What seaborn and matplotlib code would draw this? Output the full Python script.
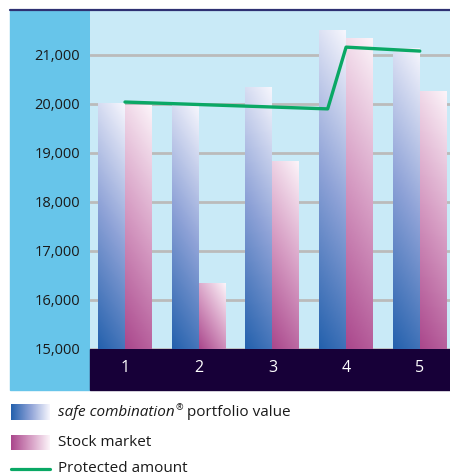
import numpy as np
import pandas as pd
import matplotlib
matplotlib.use("Agg")
import matplotlib.pyplot as plt
from matplotlib.colors import LinearSegmentedColormap
from matplotlib.patches import Rectangle
from matplotlib.lines import Line2D
from matplotlib.ticker import StrMethodFormatter
import seaborn as sns

# ---------------- data ----------------
periods = ["1", "2", "3", "4", "5"]
portfolio_values = [20000, 19970, 20345, 21490, 21140]
stock_values = [19975, 16345, 18835, 21345, 20245]
protected_period = [1, 3.75, 4, 5]
protected_values = [20040, 19900, 21160, 21080]
y_ticks = [15000, 16000, 17000, 18000, 19000, 20000, 21000]
series_names = ["safe combination® portfolio value", "Stock market"]

# ---------------- style ----------------
sns.set_theme(style="white")
plt.rcParams["font.family"] = ["Open Sans", "DejaVu Sans"]

W, H, DPI = 450, 476, 100
fig = plt.figure(figsize=(W / DPI, H / DPI), dpi=DPI)
fig.patch.set_facecolor("white")

def fx(px):
    return px / W

def fy(py):
    return 1 - py / H

# background panels
fig.add_artist(Rectangle((fx(10), fy(390)), fx(80), (390 - 10) / H,
                         transform=fig.transFigure, color="#67c5ea", zorder=0))
fig.add_artist(Rectangle((fx(90), fy(390)), fx(360), (390 - 349) / H,
                         transform=fig.transFigure, color="#170038", zorder=0))

ax = fig.add_axes([fx(90), fy(349), fx(360), (349 - 10) / H])
ax.set_facecolor("#c9eaf7")

df = pd.DataFrame({
    "period": periods * 2,
    "value": portfolio_values + stock_values,
    "series": [series_names[0]] * len(periods) + [series_names[1]] * len(periods),
})

sns.barplot(data=df, x="period", y="value", hue="series", hue_order=series_names,
            order=periods, width=0.73, ax=ax, legend=False, saturation=1,
            palette=["#8fa3d6", "#d59cc3"])

ylo, yhi = 15000, 21918
ax.set_ylim(ylo, yhi)
ax.set_xlim(-0.475, 4.41)

blue_cmap = LinearSegmentedColormap.from_list("b", ["#2461ad", "#8ea2d7", "#f6f6fd"])
pink_cmap = LinearSegmentedColormap.from_list("p", ["#aa478c", "#d69cc3", "#fcf4f9"])

def gradient_img(cmap, wpx, hpx, ang=np.deg2rad(60), n=200, m=40):
    u = np.linspace(0, 1, m)[None, :]
    v = np.linspace(0, 1, n)[:, None]
    a, b = wpx * np.sin(ang), hpx * np.cos(ang)
    t = (u * a + v * b) / (a + b)
    return cmap(t)

fig.canvas.draw()
n = len(periods)
for i, patch in enumerate(ax.patches[:2 * n]):
    cmap = blue_cmap if i < n else pink_cmap
    x0, w = patch.get_x(), patch.get_width()
    y0 = max(patch.get_y(), ylo)
    y1 = patch.get_y() + patch.get_height()
    p0 = ax.transData.transform((x0, y0))
    p1 = ax.transData.transform((x0 + w, y1))
    img = gradient_img(cmap, abs(p1[0] - p0[0]), abs(p1[1] - p0[1]))
    ax.imshow(img, extent=[x0, x0 + w, y0, y1], origin="lower",
              aspect="auto", zorder=2, interpolation="bilinear")
    patch.set_facecolor("none")
    patch.set_edgecolor("none")
ax.set_xlim(-0.475, 4.41)
ax.set_ylim(ylo, yhi)

# protected amount line
sns.lineplot(x=[p - 1 for p in protected_period], y=protected_values, ax=ax,
             color="#0aa865", linewidth=2.4, sort=False, zorder=4)

# grid
ax.set_yticks(y_ticks)
ax.yaxis.set_major_formatter(StrMethodFormatter("{x:,.0f}"))
ax.grid(axis="y", color="#bbbbbb", linewidth=2.0, zorder=1)
ax.grid(axis="x", visible=False)
ax.set_axisbelow(True)
for s in ax.spines.values():
    s.set_visible(False)
ax.tick_params(axis="y", length=0, pad=7, labelsize=10.5, labelcolor="#1a1a1a")
ax.tick_params(axis="x", length=0, pad=8, labelsize=11.5, labelcolor="white")
ax.set_xlabel("")
ax.set_ylabel("")

# top navy line
fig.add_artist(Line2D([fx(10), fx(450)], [fy(10), fy(10)], transform=fig.transFigure,
                      color="#2e3173", linewidth=1.6, zorder=5))

# ---------------- legend ----------------
def swatch(y_top, y_bot, cmap):
    g = np.linspace(0, 1, 100)[None, :]
    lax = fig.add_axes([fx(11), fy(y_bot), fx(39), (y_bot - y_top) / H])
    lax.imshow(cmap(g), aspect="auto", extent=[0, 1, 0, 1])
    lax.set_axis_off()

swatch(404, 420, blue_cmap)
swatch(435, 450, pink_cmap)
fig.add_artist(Line2D([fx(11), fx(50)], [fy(469), fy(469)], transform=fig.transFigure,
                      color="#0aa865", linewidth=2.3))

fs = 11
tcol = "#1a1a1a"
renderer = fig.canvas.get_renderer()
t1 = fig.text(fx(58), fy(412), "safe combination", fontsize=fs, style="italic",
              color=tcol, va="center", ha="left")
bb = t1.get_window_extent(renderer)
t2 = fig.text(bb.x1 / W + 0.002, fy(408), "®", fontsize=6.5, color=tcol,
              va="center", ha="left")
bb2 = t2.get_window_extent(renderer)
fig.text(bb2.x1 / W, fy(412), " portfolio value", fontsize=fs, color=tcol,
         va="center", ha="left")
fig.text(fx(58), fy(442), "Stock market", fontsize=fs, color=tcol, va="center", ha="left")
fig.text(fx(58), fy(469), "Protected amount", fontsize=fs, color=tcol, va="center", ha="left")

fig.savefig("out.png", dpi=DPI, facecolor="white")
